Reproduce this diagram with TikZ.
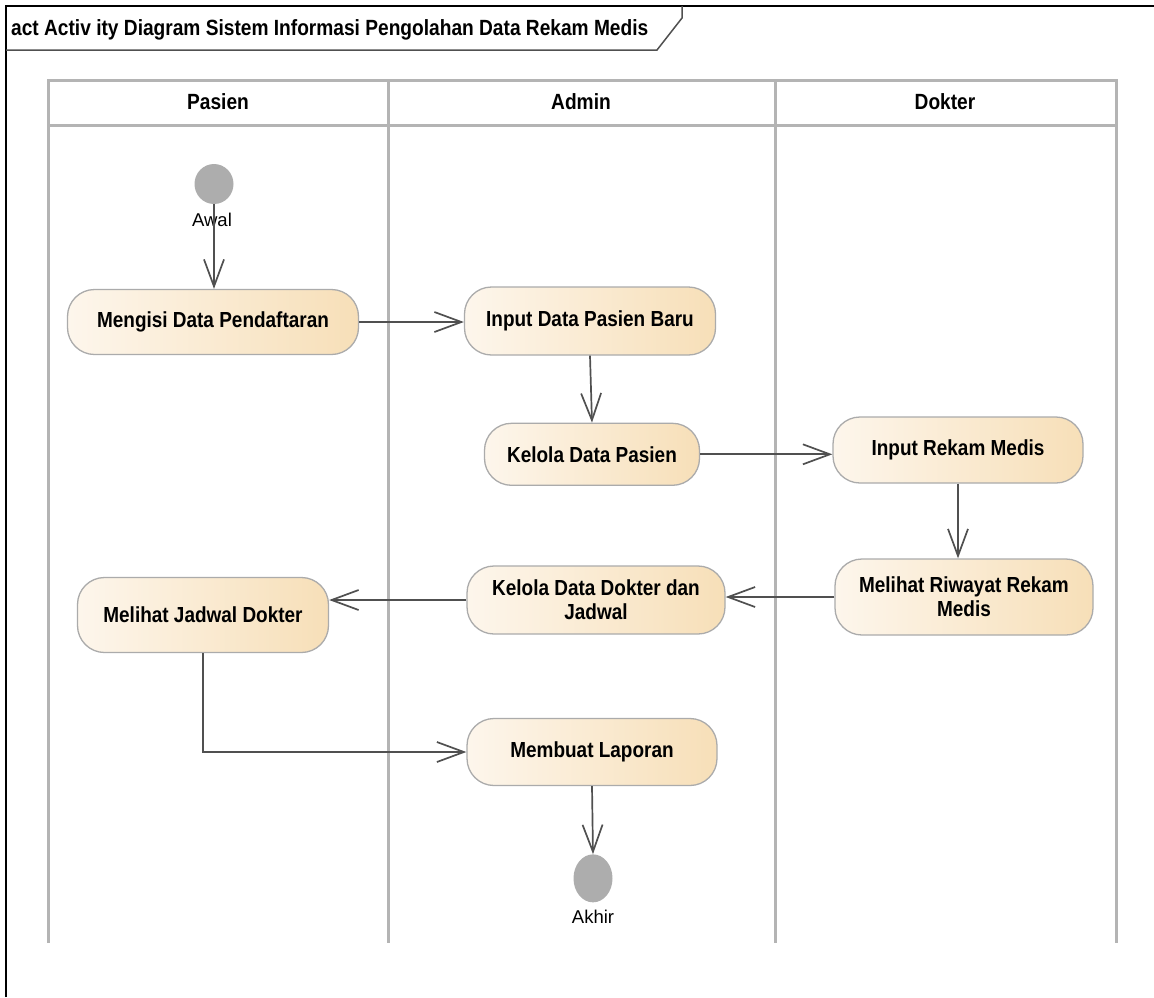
\documentclass[tikz,border=0pt]{standalone}
\usepackage{fontspec}
\setmainfont{Liberation Sans}
\newfontfamily\eafont[FakeStretch=0.87]{Liberation Sans}
\usetikzlibrary{positioning,arrows.meta,shapes.geometric}

\definecolor{actlight}{HTML}{FDF6EC}
\definecolor{actdark}{HTML}{F7DFB8}
\definecolor{actborder}{HTML}{ABABAB}
\definecolor{flowgray}{HTML}{505050}
\definecolor{lanegray}{HTML}{B4B4B4}
\definecolor{nodegray}{HTML}{ADADAD}

\tikzset{
  action/.style={draw=actborder, line width=1.3pt, rounded corners=27pt,
    left color=actlight, right color=actdark, align=center, inner sep=0pt,
    font=\eafont\fontsize{21.8}{24}\selectfont\bfseries},
  flow/.style={draw=flowgray, line width=1.7pt,
    -{Straight Barb[length=27pt,width=20pt,line width=1.7pt]}},
  lane/.style={draw=lanegray, line width=3pt},
  lanehead/.style={font=\eafont\fontsize{22}{24}\selectfont\bfseries},
  initnode/.style={ellipse, fill=nodegray, inner sep=0pt},
  nodelabel/.style={font=\fontsize{18.5}{20}\selectfont, inner sep=0pt}
}

\begin{document}
\begin{tikzpicture}[x=1pt, y=-1pt]
  \useasboundingbox (0,0) rectangle (1154,997);

  % frame and title tab
  \draw[black, line width=1.5pt] (6,997) -- (6,6) -- (1154,6);
  \draw[flowgray, line width=1.5pt] (6,50) -- (657,50) -- (682,18) -- (682,6);
  \node[anchor=west, inner sep=0pt, font=\eafont\fontsize{22}{24}\selectfont\bfseries]
    (title) at (11,30) {act Activ ity Diagram Sistem Informasi Pengolahan Data Rekam Medis};

  % swimlanes
  \draw[lane] (48,943) -- (48,80) -- (1116,80) -- (1116,943);
  \draw[lane] (48,125) -- (1116,125);
  \draw[lane] (388,80) -- (388,943);
  \draw[lane] (775,80) -- (775,943);
  \node[lanehead] (pasien) at (218,102) {Pasien};
  \node[lanehead] (admin)  at (581,102) {Admin};
  \node[lanehead] (dokter) at (945,102) {Dokter};

  % Pasien
  \node[initnode, minimum width=39pt, minimum height=40pt] (awal) at (214,184) {}; %
  \node[nodelabel, below=9pt of awal, xshift=-2pt] (awal-label) {Awal}; %
  \node[action, minimum width=291pt, minimum height=65pt] (mengisi) at (213,322) {Mengisi Data Pendaftaran}; %
  \node[action, minimum width=251pt, minimum height=75pt] (jadwal) at (203,615) {Melihat Jadwal Dokter}; %

  % Admin
  \node[action, minimum width=251pt, minimum height=68pt] (input-baru) at (590,321) {Input Data Pasien Baru}; %
  \node[action, minimum width=215pt, minimum height=62pt, below=67pt of input-baru, xshift=2pt] (kelola-pasien) {Kelola Data Pasien}; %
  \node[action, minimum width=258pt, minimum height=68pt] (kelola-dokter) at (596,600) {Kelola Data Dokter dan\\Jadwal}; %
  \node[action, minimum width=250pt, minimum height=67pt] (laporan) at (592,752) {Membuat Laporan}; %
  \node[initnode, minimum width=39pt, minimum height=48pt, below=68pt of laporan, xshift=1pt] (akhir) {}; %
  \node[nodelabel, below=7pt of akhir] (akhir-label) {Akhir}; %

  % Dokter
  \node[action, minimum width=250pt, minimum height=66pt] (input-rekam) at (958,450) {Input Rekam Medis}; %
  \node[action, minimum width=258pt, minimum height=76pt] (riwayat) at (964,597) {Melihat Riwayat Rekam\\Medis}; %

  % flows
  \draw[flow] (awal.south) -- (awal.south |- mengisi.north);
  \draw[flow] (mengisi.east) -- (mengisi.east -| input-baru.west);
  \draw[flow] (input-baru.south) -- (kelola-pasien.north);
  \draw[flow] (kelola-pasien.east) -- (kelola-pasien.east -| input-rekam.west);
  \draw[flow] (input-rekam.south) -- (input-rekam.south |- riwayat.north);
  \draw[flow] (riwayat.west) -- (riwayat.west -| kelola-dokter.east);
  \draw[flow] (kelola-dokter.west) -- (kelola-dokter.west -| jadwal.east);
  \draw[flow] (jadwal.south) |- (laporan.west);
  \draw[flow] (laporan.south) -- (akhir.north);

\end{tikzpicture}
\end{document}
